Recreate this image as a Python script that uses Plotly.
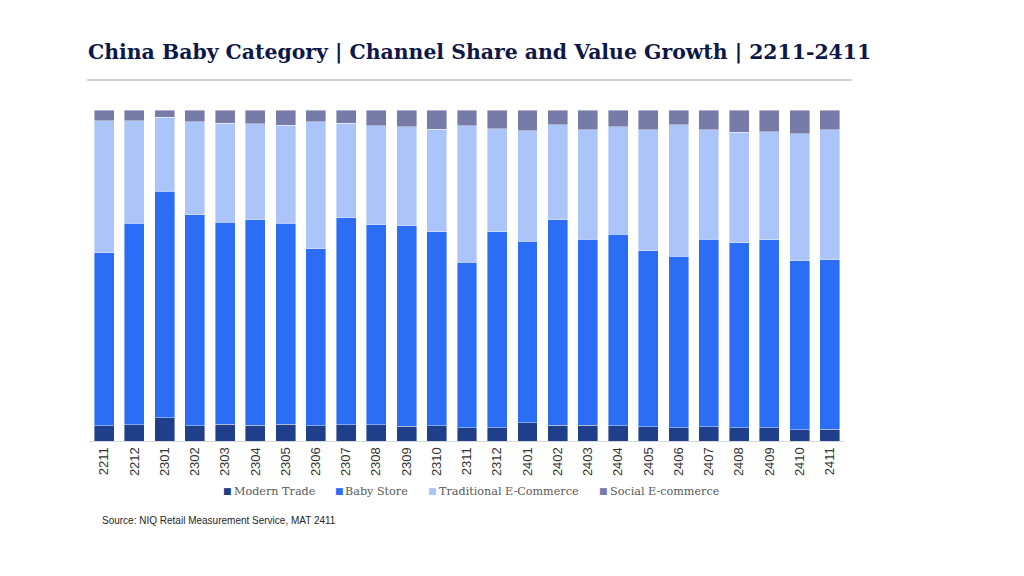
import plotly.graph_objects as go

months = ['2211', '2212', '2301', '2302', '2303', '2304', '2305', '2306', '2307',
          '2308', '2309', '2310', '2311', '2312', '2401', '2402', '2403', '2404',
          '2405', '2406', '2407', '2408', '2409', '2410', '2411']

# channel share, %
modern_trade = [4.6, 4.9, 7.0, 4.6, 5.1, 4.8, 5.1, 4.6, 4.9, 4.9, 4.4, 4.6, 4.0,
                4.0, 5.5, 4.8, 4.7, 4.6, 4.3, 4.0, 4.3, 4.0, 4.0, 3.4, 3.6]
baby_store = [52.2, 60.9, 68.5, 63.7, 61.0, 62.1, 60.7, 53.5, 62.5, 60.4, 60.6, 58.6, 50.0,
              59.2, 54.9, 62.0, 56.3, 57.8, 53.2, 51.8, 56.7, 55.9, 56.8, 51.0, 51.1]
traditional_ec = [40.0, 31.0, 22.3, 28.1, 29.9, 29.0, 29.6, 38.3, 28.6, 30.0, 30.0, 31.0, 41.3,
                  31.2, 33.3, 28.8, 33.0, 32.5, 36.5, 39.8, 33.0, 33.4, 32.6, 38.4, 39.3]
social_ec = [3.2, 3.2, 2.2, 3.6, 4.0, 4.1, 4.6, 3.6, 4.0, 4.7, 5.0, 5.8, 4.7,
             5.6, 6.3, 4.4, 6.0, 5.1, 6.0, 4.4, 6.0, 6.7, 6.6, 7.2, 6.0]

series = [
    ('Modern Trade', modern_trade, '#1f3f8a'),
    ('Baby Store', baby_store, '#2b6ef5'),
    ('Traditional E-Commerce', traditional_ec, '#abc4fa'),
    ('Social E-commerce', social_ec, '#777ba8'),
]

fig = go.Figure()
for name, vals, col in series:
    fig.add_trace(go.Bar(x=months, y=vals, name=name, marker_color=col,
                         marker_line=dict(color='rgba(255,255,255,0.5)', width=0.8)))

# page has an 8px body margin, so work in screen px and shift
OFF = 8
W, H = 1024 - OFF, 576 - OFF
L, R, T, B = 89 - OFF, 179, 110 - OFF, 135
pw, ph = W - L - R, H - T - B

def px(x):
    return (x - OFF - L) / pw

def py(y):
    return (H - B - (y - OFF)) / ph

fig.update_layout(
    width=W, height=H,
    barmode='stack', bargap=0.34,
    plot_bgcolor='white', paper_bgcolor='white',
    margin=dict(l=L, r=R, t=T, b=B),
    title=dict(text='<b>China Baby Category | Channel Share and Value Growth | 2211-2411</b>',
               x=(88 - OFF) / W, xanchor='left', y=1 - (52 - OFF) / H, yanchor='middle',
               font=dict(family='DejaVu Serif', size=20.4, color='#0d1748')),
    xaxis=dict(tickangle=-90, showline=True, linecolor='#d9d9d9', linewidth=1,
               tickfont=dict(family='Liberation Sans, Arial', size=13, color='#333333'),
               ticks='', showgrid=False),
    yaxis=dict(range=[0, 100], visible=False, showgrid=False),
    showlegend=False,
)

fig.add_shape(type='line', xref='paper', yref='paper',
              x0=px(87), x1=px(852), y0=py(80), y1=py(80),
              line=dict(color='#a6a6a6', width=1))

# legend drawn as text items
legend_marker_x = [222, 334, 427, 598]
legend_text_x = [232, 343, 437, 608]
for (name, vals, col), mx, tx in zip(series, legend_marker_x, legend_text_x):
    fig.add_annotation(text='■', xref='paper', yref='paper', x=px(mx - 1), y=py(491),
                       xanchor='left', yanchor='middle', showarrow=False,
                       font=dict(family='DejaVu Sans', size=9, color=col))
    fig.add_annotation(text=name, xref='paper', yref='paper', x=px(tx), y=py(491),
                       xanchor='left', yanchor='middle', showarrow=False,
                       font=dict(family='DejaVu Serif', size=11.2, color='#595959'))

fig.add_annotation(text='Source: NIQ Retail Measurement Service, MAT 2411',
                   xref='paper', yref='paper', x=px(100), y=py(520),
                   xanchor='left', yanchor='middle', showarrow=False,
                   font=dict(family='Liberation Sans, Arial', size=10, color='#262626'))

fig.write_html('out.html')
